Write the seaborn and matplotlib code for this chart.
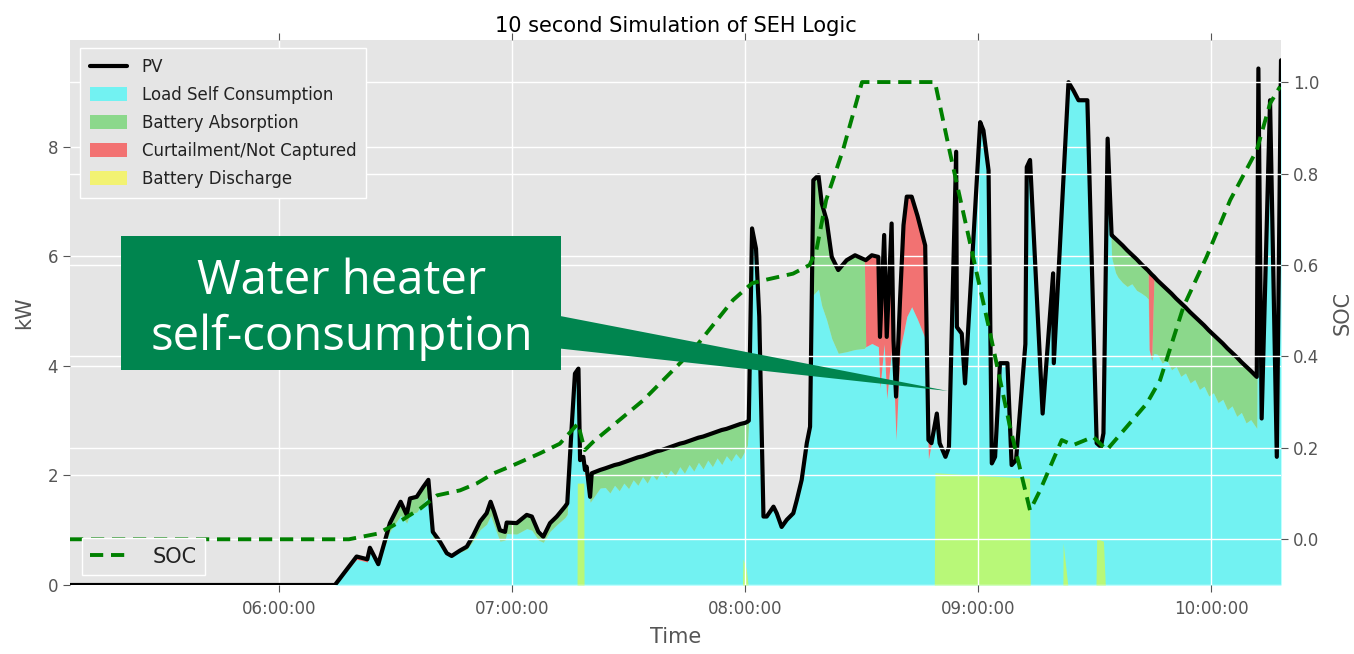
import numpy as np
import pandas as pd
import matplotlib
matplotlib.use("Agg")
import matplotlib.pyplot as plt
import matplotlib.dates as mdates
import seaborn as sns
from matplotlib.patches import Patch, Rectangle, Polygon
from matplotlib.lines import Line2D

# ---------------- data (hours of day, kW) ----------------
time_h = [5.103, 6.240, 6.333, 6.379, 6.390, 6.426, 6.476, 6.522, 6.548, 6.562,
          6.591, 6.619, 6.641, 6.660, 6.691, 6.720, 6.741, 6.777, 6.806, 6.834,
          6.863, 6.891, 6.908, 6.923, 6.948, 6.970, 6.977, 7.020, 7.063, 7.085,
          7.113, 7.134, 7.163, 7.192, 7.227, 7.237, 7.256, 7.270, 7.285, 7.292,
          7.306, 7.313, 7.320, 7.335, 7.342, 7.378,
          7.40, 7.42, 7.44, 7.46, 7.48, 7.50, 7.52, 7.54, 7.56, 7.58,
          7.60, 7.62, 7.64, 7.66, 7.68, 7.70, 7.72, 7.74, 7.76, 7.78,
          7.80, 7.82, 7.84, 7.86, 7.88, 7.90, 7.92, 7.94, 7.96, 7.98,
          8.00, 8.010, 8.016, 8.030, 8.047, 8.061, 8.079, 8.093, 8.122, 8.136,
          8.157, 8.179, 8.207, 8.222, 8.243, 8.265, 8.279, 8.293, 8.315, 8.329,
          8.350, 8.372, 8.400, 8.436, 8.472, 8.512, 8.518, 8.544, 8.572, 8.579,
          8.597, 8.608, 8.629, 8.637, 8.648, 8.665, 8.680, 8.694, 8.715, 8.740,
          8.773, 8.787, 8.800, 8.823, 8.835, 8.860, 8.875, 8.906, 8.909, 8.930,
          8.944, 9.009, 9.023, 9.045, 9.059, 9.073, 9.094, 9.126, 9.144, 9.163,
          9.203, 9.209, 9.223, 9.277, 9.322, 9.325, 9.388, 9.409, 9.431, 9.469,
          9.509, 9.527, 9.538, 9.556, 9.573,
          9.575, 9.59, 9.60, 9.62, 9.64, 9.66, 9.68, 9.70, 9.72, 9.730,
          9.734, 9.745, 9.755, 9.77, 9.79, 9.81, 9.83, 9.85, 9.87, 9.89,
          9.91, 9.93, 9.95, 9.97, 9.99, 10.01, 10.03, 10.05, 10.07, 10.09,
          10.11, 10.13, 10.15, 10.17, 10.196, 10.203, 10.217, 10.253, 10.282, 10.300]

pv_kw = [0.00, 0.00, 0.52, 0.47, 0.68, 0.38, 1.13, 1.52, 1.28, 1.58,
         1.61, 1.79, 1.92, 0.97, 0.79, 0.58, 0.53, 0.63, 0.70, 0.91,
         1.16, 1.31, 1.52, 1.34, 1.00, 0.97, 1.14, 1.13, 1.28, 1.25,
         0.97, 0.88, 1.13, 1.25, 1.43, 1.49, 2.89, 3.86, 3.95, 2.28,
         2.34, 2.10, 2.16, 1.61, 2.04, 2.10,
         2.13, 2.16, 2.19, 2.21, 2.24, 2.27, 2.30, 2.33, 2.35, 2.38,
         2.41, 2.44, 2.46, 2.49, 2.52, 2.55, 2.58, 2.60, 2.63, 2.66,
         2.69, 2.71, 2.74, 2.77, 2.80, 2.83, 2.85, 2.88, 2.91, 2.94,
         2.96, 2.98, 3.00, 6.51, 6.14, 4.90, 1.25, 1.25, 1.43, 1.31,
         1.06, 1.19, 1.31, 1.55, 1.92, 2.59, 2.89, 7.39, 7.48, 6.97,
         6.66, 5.99, 5.75, 5.93, 6.02, 5.94, 5.93, 6.02, 5.99, 4.53,
         6.39, 4.53, 6.60, 4.47, 3.44, 5.20, 6.57, 7.09, 7.09, 6.74,
         6.20, 2.65, 2.59, 3.13, 2.59, 2.34, 2.52, 7.91, 4.71, 4.59,
         3.68, 8.45, 8.30, 7.57, 2.22, 2.34, 4.05, 4.05, 2.19, 2.28,
         4.40, 7.63, 7.76, 3.13, 5.69, 4.05, 9.18, 9.03, 8.85, 8.85,
         2.59, 2.52, 2.77, 8.15, 6.39,
         6.38, 6.32, 6.28, 6.20, 6.11, 6.03, 5.95, 5.86, 5.78, 5.74,
         5.72, 5.67, 5.63, 5.56, 5.48, 5.40, 5.32, 5.23, 5.15, 5.07,
         4.98, 4.90, 4.82, 4.74, 4.65, 4.57, 4.49, 4.41, 4.32, 4.24,
         4.16, 4.07, 3.99, 3.91, 3.80, 9.43, 3.04, 8.85, 2.34, 9.58]

load_kw = [0.00, 0.00, 0.47, 0.42, 0.65, 0.38, 0.98, 1.27, 1.13, 1.30,
           1.33, 1.50, 1.62, 0.87, 0.74, 0.58, 0.53, 0.60, 0.65, 0.81,
           1.01, 1.11, 1.27, 1.09, 0.80, 0.82, 0.94, 0.93, 1.03, 1.00,
           0.82, 0.78, 0.98, 1.10, 1.23, 1.29, 2.89, 3.86, 3.95, 2.28,
           2.34, 2.00, 2.06, 1.51, 1.55, 1.77,
           1.78, 1.68, 1.82, 1.72, 1.86, 1.76, 1.92, 1.82, 1.98, 1.86,
           2.02, 1.92, 2.08, 1.96, 2.10, 2.00, 2.16, 2.04, 2.20, 2.08,
           2.24, 2.12, 2.28, 2.16, 2.32, 2.20, 2.36, 2.26, 2.40, 2.30,
           2.45, 2.55, 3.00, 6.51, 6.14, 4.90, 1.25, 1.25, 1.43, 1.31,
           1.06, 1.19, 1.31, 1.55, 1.92, 2.59, 2.89, 5.30, 5.40, 5.10,
           4.84, 4.50, 4.23, 4.26, 4.30, 4.32, 4.35, 4.41, 4.35, 3.60,
           4.40, 3.40, 4.30, 3.90, 2.65, 4.30, 4.60, 4.90, 5.08, 4.85,
           4.50, 2.30, 2.59, 3.13, 2.59, 2.34, 2.52, 7.91, 4.71, 4.59,
           3.68, 8.45, 8.30, 7.57, 2.22, 2.34, 4.05, 4.05, 2.19, 2.28,
           4.40, 7.63, 7.76, 3.13, 5.69, 4.05, 9.18, 9.03, 8.85, 8.85,
           2.59, 2.52, 2.77, 8.15, 6.00,
           5.95, 5.70, 5.62, 5.52, 5.45, 5.50, 5.38, 5.33, 5.27, 5.22,
           4.30, 4.10, 4.23, 4.21, 4.05, 4.11, 3.93, 3.99, 3.81, 3.87,
           3.69, 3.75, 3.57, 3.63, 3.45, 3.51, 3.33, 3.39, 3.20, 3.27,
           3.08, 3.15, 2.96, 3.02, 2.86, 9.43, 3.04, 8.85, 2.34, 9.58]

curtail_kw = [0, 0, 0.05, 0.05, 0, 0, 0, 0, 0, 0,
              0, 0, 0, 0, 0, 0, 0, 0, 0, 0,
              0, 0, 0, 0, 0, 0, 0, 0, 0, 0,
              0, 0, 0, 0, 0, 0, 0, 0, 0, 0,
              0, 0.10, 0, 0, 0, 0,
              0, 0, 0, 0, 0, 0, 0, 0, 0, 0,
              0, 0, 0, 0, 0, 0, 0, 0, 0, 0,
              0, 0, 0, 0, 0, 0, 0, 0, 0, 0,
              0, 0, 0, 0, 0, 0, 0, 0, 0, 0,
              0, 0, 0, 0, 0, 0, 0, 0, 0, 0,
              0, 0, 0, 0, 0, 0, 1.58, 1.61, 1.64, 0.93,
              1.99, 1.13, 2.30, 0.57, 0.79, 0.90, 1.97, 2.19, 2.01, 1.89,
              1.70, 0.35, 0, 0, 0, 0, 0, 0, 0, 0,
              0, 0, 0, 0, 0, 0, 0, 0, 0, 0,
              0, 0, 0, 0, 0, 0, 0, 0, 0, 0,
              0, 0, 0, 0, 0,
              0, 0, 0, 0, 0, 0, 0, 0, 0, 0,
              1.42, 1.57, 0, 0, 0, 0, 0, 0, 0, 0,
              0, 0, 0, 0, 0, 0, 0, 0, 0, 0,
              0, 0, 0, 0, 0, 0, 0, 0, 0, 0]

discharge_h = [5.103, 7.279, 7.280, 7.308, 7.309, 7.989, 7.991, 8.005, 8.013,
               8.812, 8.815, 9.000, 9.221, 9.224, 9.364, 9.365, 9.385,
               9.506, 9.509, 9.538, 9.546, 10.300]
discharge_kw = [0, 0, 1.86, 1.86, 0, 0, 0.48, 0.30, 0,
                0, 2.05, 2.00, 1.95, 0, 0, 0.77, 0,
                0, 0.85, 0.80, 0, 0]

soc_h = [5.103, 6.300, 6.420, 6.490, 6.606, 6.678, 6.777, 6.848, 6.920, 7.005,
         7.120, 7.205, 7.283, 7.312, 7.348, 7.563, 7.777, 7.948, 8.030, 8.084,
         8.206, 8.277, 8.306, 8.348, 8.420, 8.502, 8.815, 8.880, 8.966, 9.052,
         9.137, 9.223, 9.266, 9.359, 9.408, 9.494, 9.552, 9.638, 9.724, 9.781,
         9.881, 9.981, 10.082, 10.196, 10.253, 10.296]
soc = [0.0, 0.0, 0.012, 0.030, 0.067, 0.096, 0.107, 0.122, 0.144, 0.162,
       0.188, 0.209, 0.253, 0.195, 0.213, 0.304, 0.414, 0.523, 0.560, 0.567,
       0.581, 0.600, 0.632, 0.742, 0.851, 1.0, 1.0, 0.844, 0.647, 0.450,
       0.246, 0.063, 0.107, 0.217, 0.206, 0.224, 0.195, 0.246, 0.297, 0.348,
       0.508, 0.618, 0.742, 0.851, 0.953, 0.990]

series_labels = ["PV", "Load Self Consumption", "Battery Absorption",
                 "Curtailment/Not Captured", "Battery Discharge"]
title = "10 second Simulation of SEH Logic"
note = "Water heater\nself-consumption"

# ---------------- style ----------------
sns.set_theme(style="darkgrid", rc={
    "axes.facecolor": "#E5E5E5", "grid.color": "white", "axes.edgecolor": "white",
    "xtick.color": "#555555", "ytick.color": "#555555", "axes.labelcolor": "#555555",
    "text.color": "black", "figure.facecolor": "white"})
plt.rcParams["font.family"] = ["DejaVu Sans"]

base = pd.Timestamp("2016-06-01")


def to_dt(hours):
    return base + pd.to_timedelta(np.asarray(hours, dtype=float), unit="h")


W, H = 1354, 654
fig = plt.figure(figsize=(W / 100, H / 100), dpi=100)
ax = fig.add_axes([70 / W, 1 - 585 / H, (1281 - 70) / W, (585 - 40) / H])

t = to_dt(time_h)
pv = np.array(pv_kw)
load = np.array(load_kw)
curt = np.array(curtail_kw)

ax.fill_between(t, 0, load, color="cyan", alpha=0.5, lw=0, zorder=1)
ax.fill_between(t, load, pv - curt, color="limegreen", alpha=0.5, lw=0, zorder=1)
ax.fill_between(t, pv - curt, pv, color="red", alpha=0.5, lw=0, zorder=1)
ax.fill_between(to_dt(discharge_h), 0, discharge_kw, color="yellow", alpha=0.5, lw=0, zorder=1.2)
sns.lineplot(x=t, y=pv, ax=ax, color="black", lw=3.0, estimator=None, sort=False, zorder=3)

ax.set_xlim(to_dt([5.103])[0], to_dt([10.300])[0])
ax.set_ylim(0, 9.95)
ax.set_yticks([0, 2, 4, 6, 8])
ax.xaxis.set_major_locator(mdates.HourLocator())
ax.xaxis.set_major_formatter(mdates.DateFormatter("%H:%M:%S"))
ax.set_axisbelow(False)
ax.grid(True, color="white", lw=1.0)
for s in ax.spines.values():
    s.set_visible(False)
ax.tick_params(axis="x", which="both", direction="out", top=True, bottom=True,
               length=5, width=0.8, color="#555555", labelsize=12, labelcolor="#555555", pad=6)
ax.tick_params(axis="y", direction="out", left=True, length=5, width=0.8,
               color="#555555", labelsize=12, labelcolor="#555555")
ax.set_xlabel("Time", fontsize=15, color="#555555", labelpad=6)
ax.set_ylabel("kW", fontsize=15, color="#555555", labelpad=10)
ax.set_title(title, fontsize=15, pad=6)

ax2 = ax.twinx()
sns.lineplot(x=to_dt(soc_h), y=soc, ax=ax2, color="green", lw=2.8,
             estimator=None, sort=False, linestyle=(0, (3.4, 2.0)))
ax2.set_ylim(-0.1, 1.092)
ax2.set_yticks([0.0, 0.2, 0.4, 0.6, 0.8, 1.0])
ax2.set_yticklabels(["0.0", "0.2", "0.4", "0.6", "0.8", "1.0"])
ax2.grid(True, axis="y", color="white", lw=1.0)
ax2.grid(False, axis="x")
for s in ax2.spines.values():
    s.set_visible(False)
ax2.tick_params(axis="y", direction="out", right=True, length=5, width=0.8,
                color="#555555", labelsize=12, labelcolor="#555555")
ax2.set_ylabel("SOC", fontsize=15, color="#555555", labelpad=10)
ax2.set_xlim(ax.get_xlim())

# legends live on the top (twin) axes so no grid line crosses them
leg_handles = [Line2D([0], [0], color="black", lw=3.0),
               Patch(facecolor="cyan", alpha=0.5, edgecolor="none"),
               Patch(facecolor="limegreen", alpha=0.5, edgecolor="none"),
               Patch(facecolor="red", alpha=0.5, edgecolor="none"),
               Patch(facecolor="yellow", alpha=0.5, edgecolor="none")]
leg1 = ax2.legend(leg_handles, series_labels, loc="upper left",
                  bbox_to_anchor=(10 / 1211, 537 / 545), borderaxespad=0,
                  fontsize=12, frameon=True, facecolor="#E5E5E5", edgecolor="white",
                  framealpha=1, fancybox=False, labelspacing=0.6, handlelength=2.2,
                  handleheight=0.9, borderpad=0.6, handletextpad=0.9)
leg1.get_frame().set_linewidth(1.0)
for txt in leg1.get_texts():
    txt.set_color("#222222")
ax2.add_artist(leg1)

leg2 = ax2.legend([Line2D([0], [0], color="green", lw=2.8, linestyle=(0, (3.4, 2.0)))],
                  ["SOC"], loc="lower left", bbox_to_anchor=(12 / 1211, 10 / 545),
                  borderaxespad=0, fontsize=15, frameon=True, facecolor="#E5E5E5",
                  edgecolor="white", framealpha=1, fancybox=False, handlelength=2.0,
                  borderpad=0.4, handletextpad=1.0)
for txt in leg2.get_texts():
    txt.set_color("#222222")

# ---------------- callout annotation ----------------
box_color = "#00854F"


def fx(x):
    return x / W


def fy(y):
    return 1 - y / H


fig.add_artist(Polygon([(fx(555), fy(315)), (fx(555), fy(348)), (fx(948), fy(391))],
                       closed=True, transform=fig.transFigure, facecolor=box_color,
                       edgecolor="none", zorder=5))
fig.add_artist(Rectangle((fx(121), fy(370)), fx(561) - fx(121), fy(236) - fy(370),
                         transform=fig.transFigure, facecolor=box_color,
                         edgecolor="none", zorder=5))
fig.text(fx(342), fy(309), note, ha="center", va="center", color="white",
         fontsize=34, family=["Open Sans", "DejaVu Sans"], linespacing=1.22, zorder=6)

fig.savefig("out.png", dpi=100)
